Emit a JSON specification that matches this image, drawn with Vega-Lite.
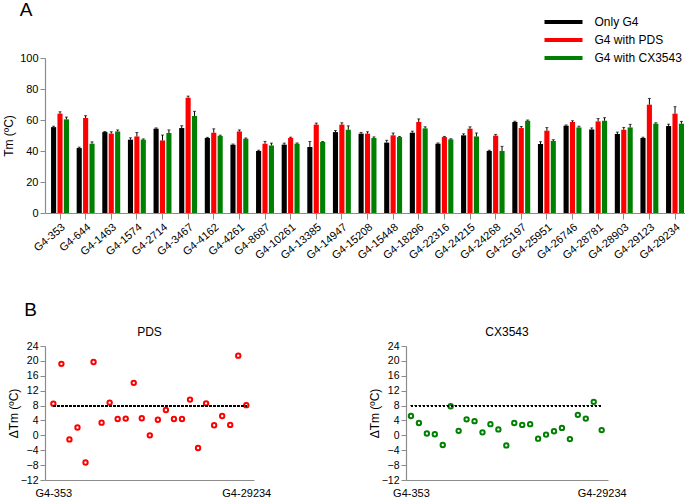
{
  "$schema": "https://vega.github.io/schema/vega-lite/v6.json",
  "background": "white",
  "padding": {"left": 2, "top": 1, "right": 0, "bottom": 0},
  "bounds": "flush",
  "spacing": 133,
  "config": {
    "font": "Liberation Sans",
    "view": {"stroke": null},
    "axis": {"domainColor": "#8c8c8c", "tickColor": "#8c8c8c", "labelColor": "#000", "titleColor": "#000", "labelFont": "Liberation Sans", "titleFont": "Liberation Sans", "titleFontWeight": "normal", "grid": false, "labelFontSize": 11, "titleFontSize": 12, "domainWidth": 1.2, "labelOverlap": false},
    "title": {"font": "Liberation Sans", "fontWeight": "normal", "color": "#000"},
    "legend": {"labelFont": "Liberation Sans", "labelColor": "#000"}
  },
  "datasets": {
    "bars": [
      {"g": "G4-353", "s": "Only G4", "v": 55.4, "hi": 56.0}, {"g": "G4-353", "s": "G4 with PDS", "v": 64.1, "hi": 65.3}, {"g": "G4-353", "s": "G4 with CX3543", "v": 60.4, "hi": 61.9},
      {"g": "G4-644", "s": "Only G4", "v": 41.9, "hi": 42.5}, {"g": "G4-644", "s": "G4 with PDS", "v": 61.3, "hi": 62.8}, {"g": "G4-644", "s": "G4 with CX3543", "v": 44.7, "hi": 45.9},
      {"g": "G4-1463", "s": "Only G4", "v": 52.2, "hi": 52.6}, {"g": "G4-1463", "s": "G4 with PDS", "v": 51.2, "hi": 52.4}, {"g": "G4-1463", "s": "G4 with CX3543", "v": 52.6, "hi": 53.6},
      {"g": "G4-1574", "s": "Only G4", "v": 47.3, "hi": 48.5}, {"g": "G4-1574", "s": "G4 with PDS", "v": 49.4, "hi": 51.9}, {"g": "G4-1574", "s": "G4 with CX3543", "v": 47.3, "hi": 47.8},
      {"g": "G4-2714", "s": "Only G4", "v": 54.4, "hi": 54.9}, {"g": "G4-2714", "s": "G4 with PDS", "v": 46.8, "hi": 50.3}, {"g": "G4-2714", "s": "G4 with CX3543", "v": 51.6, "hi": 53.6},
      {"g": "G4-3467", "s": "Only G4", "v": 54.8, "hi": 56.3}, {"g": "G4-3467", "s": "G4 with PDS", "v": 74.4, "hi": 75.4}, {"g": "G4-3467", "s": "G4 with CX3543", "v": 62.6, "hi": 65.6},
      {"g": "G4-4162", "s": "Only G4", "v": 48.4, "hi": 48.8}, {"g": "G4-4162", "s": "G4 with PDS", "v": 51.8, "hi": 54.3}, {"g": "G4-4162", "s": "G4 with CX3543", "v": 49.7, "hi": 50.2},
      {"g": "G4-4261", "s": "Only G4", "v": 44.1, "hi": 44.5}, {"g": "G4-4261", "s": "G4 with PDS", "v": 52.6, "hi": 53.6}, {"g": "G4-4261", "s": "G4 with CX3543", "v": 47.9, "hi": 48.4},
      {"g": "G4-8687", "s": "Only G4", "v": 40.0, "hi": 40.5}, {"g": "G4-8687", "s": "G4 with PDS", "v": 44.7, "hi": 46.2}, {"g": "G4-8687", "s": "G4 with CX3543", "v": 43.6, "hi": 45.1},
      {"g": "G4-10261", "s": "Only G4", "v": 44.1, "hi": 45.1}, {"g": "G4-10261", "s": "G4 with PDS", "v": 48.4, "hi": 48.9}, {"g": "G4-10261", "s": "G4 with CX3543", "v": 44.7, "hi": 45.2},
      {"g": "G4-13385", "s": "Only G4", "v": 42.6, "hi": 46.1}, {"g": "G4-13385", "s": "G4 with PDS", "v": 57.0, "hi": 58.0}, {"g": "G4-13385", "s": "G4 with CX3543", "v": 45.8, "hi": 46.1},
      {"g": "G4-14947", "s": "Only G4", "v": 52.2, "hi": 53.2}, {"g": "G4-14947", "s": "G4 with PDS", "v": 57.0, "hi": 58.2}, {"g": "G4-14947", "s": "G4 with CX3543", "v": 53.7, "hi": 56.2},
      {"g": "G4-15208", "s": "Only G4", "v": 51.2, "hi": 52.0}, {"g": "G4-15208", "s": "G4 with PDS", "v": 51.2, "hi": 52.4}, {"g": "G4-15208", "s": "G4 with CX3543", "v": 48.4, "hi": 49.1},
      {"g": "G4-15448", "s": "Only G4", "v": 45.4, "hi": 46.9}, {"g": "G4-15448", "s": "G4 with PDS", "v": 50.1, "hi": 51.6}, {"g": "G4-15448", "s": "G4 with CX3543", "v": 49.0, "hi": 49.4},
      {"g": "G4-18296", "s": "Only G4", "v": 51.8, "hi": 52.8}, {"g": "G4-18296", "s": "G4 with PDS", "v": 58.7, "hi": 60.7}, {"g": "G4-18296", "s": "G4 with CX3543", "v": 54.6, "hi": 55.6},
      {"g": "G4-22316", "s": "Only G4", "v": 44.7, "hi": 45.2}, {"g": "G4-22316", "s": "G4 with PDS", "v": 49.0, "hi": 49.4}, {"g": "G4-22316", "s": "G4 with CX3543", "v": 47.5, "hi": 47.9},
      {"g": "G4-24215", "s": "Only G4", "v": 50.1, "hi": 51.1}, {"g": "G4-24215", "s": "G4 with PDS", "v": 54.4, "hi": 55.6}, {"g": "G4-24215", "s": "G4 with CX3543", "v": 49.4, "hi": 51.6},
      {"g": "G4-24268", "s": "Only G4", "v": 40.0, "hi": 40.5}, {"g": "G4-24268", "s": "G4 with PDS", "v": 49.9, "hi": 50.7}, {"g": "G4-24268", "s": "G4 with CX3543", "v": 40.0, "hi": 43.0},
      {"g": "G4-25197", "s": "Only G4", "v": 58.7, "hi": 59.2}, {"g": "G4-25197", "s": "G4 with PDS", "v": 54.8, "hi": 55.8}, {"g": "G4-25197", "s": "G4 with CX3543", "v": 59.5, "hi": 60.0},
      {"g": "G4-25951", "s": "Only G4", "v": 44.5, "hi": 46.0}, {"g": "G4-25951", "s": "G4 with PDS", "v": 53.1, "hi": 55.1}, {"g": "G4-25951", "s": "G4 with CX3543", "v": 46.5, "hi": 47.3},
      {"g": "G4-26746", "s": "Only G4", "v": 56.3, "hi": 56.8}, {"g": "G4-26746", "s": "G4 with PDS", "v": 58.7, "hi": 59.5}, {"g": "G4-26746", "s": "G4 with CX3543", "v": 55.2, "hi": 56.0},
      {"g": "G4-28781", "s": "Only G4", "v": 53.9, "hi": 54.9}, {"g": "G4-28781", "s": "G4 with PDS", "v": 59.1, "hi": 60.9}, {"g": "G4-28781", "s": "G4 with CX3543", "v": 59.5, "hi": 61.5},
      {"g": "G4-28903", "s": "Only G4", "v": 51.0, "hi": 52.2}, {"g": "G4-28903", "s": "G4 with PDS", "v": 53.7, "hi": 55.2}, {"g": "G4-28903", "s": "G4 with CX3543", "v": 55.2, "hi": 57.2},
      {"g": "G4-29123", "s": "Only G4", "v": 48.4, "hi": 48.9}, {"g": "G4-29123", "s": "G4 with PDS", "v": 69.9, "hi": 73.9}, {"g": "G4-29123", "s": "G4 with CX3543", "v": 57.6, "hi": 58.2},
      {"g": "G4-29234", "s": "Only G4", "v": 56.1, "hi": 57.3}, {"g": "G4-29234", "s": "G4 with PDS", "v": 64.1, "hi": 68.6}, {"g": "G4-29234", "s": "G4 with CX3543", "v": 57.6, "hi": 59.1}
    ],
    "delta": [
      {"g": "G4-353", "pds": 8.5, "cx": 5.2}, {"g": "G4-644", "pds": 19.2, "cx": 3.3}, {"g": "G4-1463", "pds": -1.1, "cx": 0.5},
      {"g": "G4-1574", "pds": 2.1, "cx": 0.3}, {"g": "G4-2714", "pds": -7.3, "cx": -2.6}, {"g": "G4-3467", "pds": 19.7, "cx": 7.8},
      {"g": "G4-4162", "pds": 3.4, "cx": 1.2}, {"g": "G4-4261", "pds": 8.8, "cx": 4.3}, {"g": "G4-8687", "pds": 4.4, "cx": 3.8},
      {"g": "G4-10261", "pds": 4.5, "cx": 0.8}, {"g": "G4-13385", "pds": 14.1, "cx": 3.0}, {"g": "G4-14947", "pds": 4.6, "cx": 1.6},
      {"g": "G4-15208", "pds": 0.0, "cx": -2.7}, {"g": "G4-15448", "pds": 4.2, "cx": 3.3}, {"g": "G4-18296", "pds": 6.8, "cx": 2.8},
      {"g": "G4-22316", "pds": 4.4, "cx": 3.0}, {"g": "G4-24215", "pds": 4.4, "cx": -0.9}, {"g": "G4-24268", "pds": 9.6, "cx": 0.2},
      {"g": "G4-25197", "pds": -3.4, "cx": 1.1}, {"g": "G4-25951", "pds": 8.6, "cx": 2.0}, {"g": "G4-26746", "pds": 2.7, "cx": -1.0},
      {"g": "G4-28781", "pds": 5.2, "cx": 5.5}, {"g": "G4-28903", "pds": 2.8, "cx": 4.5}, {"g": "G4-29123", "pds": 21.4, "cx": 9.0},
      {"g": "G4-29234", "pds": 8.1, "cx": 1.4}
    ]
  },
  "vconcat": [
    {
      "title": {"text": "A", "anchor": "start", "frame": "bounds", "fontSize": 19, "offset": 32, "dx": 17},
      "width": 641,
      "height": 155,
      "data": {"name": "bars"},
      "encoding": {
        "x": {"field": "g", "type": "nominal", "sort": null,
              "scale": {"paddingInner": 0.3, "paddingOuter": 0.157, "align": 0.75},
              "axis": {"title": null, "labelAngle": -40, "labelFontSize": 11, "tickSize": 6, "labelPadding": 2, "labelOverlap": false}},
        "xOffset": {"field": "s", "type": "nominal", "sort": ["Only G4", "G4 with PDS", "G4 with CX3543"], "scale": {"paddingInner": 0.2}}
      },
      "layer": [
        {
          "mark": {"type": "bar"},
          "encoding": {
            "y": {"field": "v", "type": "quantitative", "scale": {"domain": [0, 100], "nice": false},
                  "axis": {"values": [0, 20, 40, 60, 80, 100], "tickCount": 12, "title": "Tm (ºC)", "tickSize": 5, "labelPadding": 2, "titlePadding": 4, "labelOverlap": false}},
            "color": {"field": "s", "type": "nominal", "sort": ["Only G4", "G4 with PDS", "G4 with CX3543"],
                      "scale": {"domain": ["Only G4", "G4 with PDS", "G4 with CX3543"], "range": ["#000000", "#FF0000", "#008000"]},
                      "legend": {"orient": "none", "legendX": 512.5, "legendY": -42, "title": null, "padding": 0,
                                 "symbolType": "M-4,-0.4H4V0.4H-4Z", "symbolSize": 90.25, "symbolStrokeWidth": 0,
                                 "labelFontSize": 12, "labelOffset": 25, "rowPadding": 6}}
          }
        },
        {
          "mark": {"type": "rule", "color": "#000", "strokeWidth": 1},
          "encoding": {
            "y": {"field": "v", "type": "quantitative"},
            "y2": {"field": "hi"}
          }
        },
        {
          "mark": {"type": "tick", "orient": "horizontal", "color": "#000", "size": 3, "thickness": 1},
          "encoding": {
            "y": {"field": "hi", "type": "quantitative"}
          }
        }
      ]
    },
    {
      "title": {"text": "B", "anchor": "start", "frame": "bounds", "fontSize": 19, "offset": 6, "dx": 17},
      "bounds": "flush",
      "spacing": 152,
      "hconcat": [
        {
          "title": {"text": "PDS", "fontSize": 12, "offset": 2},
          "width": 209,
          "height": 134,
          "data": {"name": "delta"},
          "layer": [
            {
              "mark": {"type": "point", "filled": false, "color": "#FF0000", "strokeWidth": 2, "size": 19, "opacity": 1},
              "encoding": {
                "x": {"field": "g", "type": "ordinal", "sort": null,
                      "scale": {"type": "point", "padding": 1.13, "align": 0.52},
                      "axis": {"title": null, "values": ["G4-353", "G4-29234"], "labelAngle": 0, "ticks": false, "tickSize": 0, "labelPadding": 7, "labelFontSize": 11, "labelOverlap": false}},
                "y": {"field": "pds", "type": "quantitative", "scale": {"domain": [-12, 24], "nice": false},
                      "axis": {"values": [-12, -8, -4, 0, 4, 8, 12, 16, 20, 24], "tickCount": 20, "title": "ΔTm (ºC)", "tickSize": 5, "labelPadding": 2, "labelFontSize": 10.5, "titlePadding": 0, "labelOverlap": false}}
              }
            },
            {
              "mark": {"type": "rule", "strokeDash": [2, 2], "color": "#000", "strokeWidth": 1.2},
              "encoding": {
                "y": {"datum": 8, "type": "quantitative"},
                "x": {"datum": "G4-353", "type": "ordinal"},
                "x2": {"datum": "G4-29234"}
              }
            }
          ]
        },
        {
          "title": {"text": "CX3543", "fontSize": 12, "offset": 2},
          "width": 202,
          "height": 134,
          "data": {"name": "delta"},
          "layer": [
            {
              "mark": {"type": "point", "filled": false, "color": "#008000", "strokeWidth": 2, "size": 19, "opacity": 1},
              "encoding": {
                "x": {"field": "g", "type": "ordinal", "sort": null,
                      "scale": {"type": "point", "padding": 0.71, "align": 0.44},
                      "axis": {"title": null, "values": ["G4-353", "G4-29234"], "labelAngle": 0, "ticks": false, "tickSize": 0, "labelPadding": 7, "labelFontSize": 11, "labelOverlap": false}},
                "y": {"field": "cx", "type": "quantitative", "scale": {"domain": [-12, 24], "nice": false},
                      "axis": {"values": [-12, -8, -4, 0, 4, 8, 12, 16, 20, 24], "tickCount": 20, "title": "ΔTm (ºC)", "tickSize": 5, "labelPadding": 2, "labelFontSize": 10.5, "titlePadding": 0, "labelOverlap": false}}
              }
            },
            {
              "mark": {"type": "rule", "strokeDash": [2, 2], "color": "#000", "strokeWidth": 1.2},
              "encoding": {
                "y": {"datum": 8, "type": "quantitative"},
                "x": {"datum": "G4-353", "type": "ordinal"},
                "x2": {"datum": "G4-29234"}
              }
            }
          ]
        }
      ]
    }
  ]
}
